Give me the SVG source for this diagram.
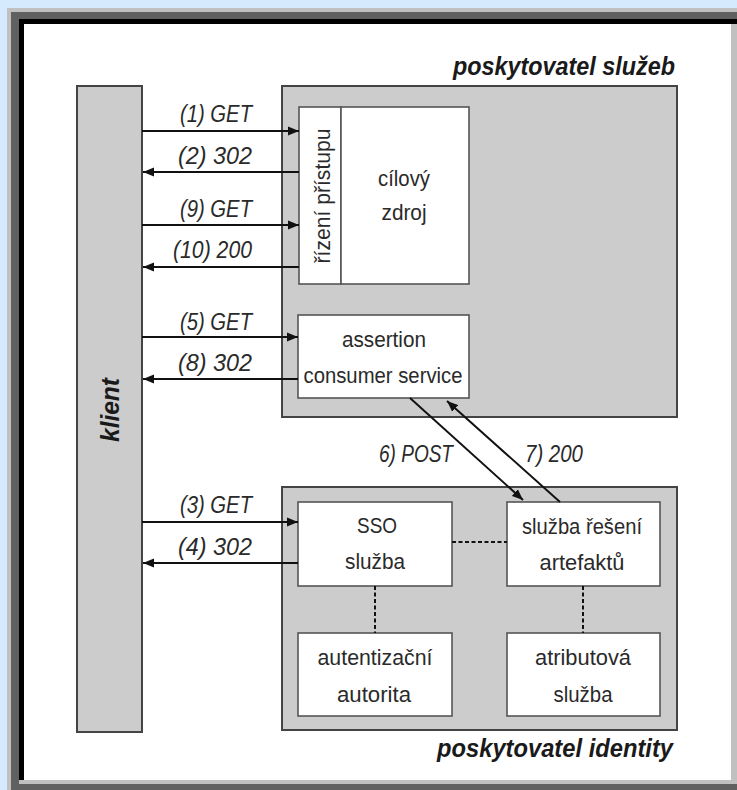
<svg xmlns="http://www.w3.org/2000/svg" width="737" height="790" viewBox="0 0 737 790">
<style>
.bg{fill:#d5eafc}
.cont{fill:#cccccc;stroke:#444;stroke-width:2}
.node{fill:#ffffff;stroke:#555;stroke-width:1.6}
.t{font-family:"Liberation Sans",Arial,sans-serif;font-size:22.5px;fill:#2a2a2a;text-anchor:middle}
.lbl{font-family:"Liberation Sans",Arial,sans-serif;font-size:23px;font-style:italic;fill:#2a2a2a}
.title{font-family:"Liberation Sans",Arial,sans-serif;font-size:25px;font-style:italic;font-weight:bold;fill:#1a1a1a}
.arr{stroke:#111;stroke-width:2;fill:none;marker-end:url(#ah)}
.dash{stroke:#111;stroke-width:2;fill:none;stroke-dasharray:4 2.5}
</style>
<defs>
<marker id="ah" markerUnits="userSpaceOnUse" markerWidth="12" markerHeight="10" refX="11" refY="5" orient="auto">
<path d="M0,0.5 L11,5 L0,9.5 z" fill="#111"/>
</marker>
</defs>
<g id="frame">
<rect class="bg" x="0" y="0" width="737" height="790"/>
<rect x="7" y="8" width="730" height="782" fill="#c0c0c0"/>
<rect x="11" y="12" width="726" height="778" fill="#606060"/>
<rect x="19" y="19" width="718" height="765" fill="#c0c0c0"/>
<rect x="19" y="19" width="718" height="5" fill="#000"/>
<rect x="19" y="19" width="5" height="761" fill="#000"/>
<rect x="24" y="24" width="707" height="756" fill="#ffffff"/>
</g>
<g id="klient">
<rect class="cont" x="77" y="86" width="65" height="646"/>
<text class="title" transform="translate(119,410) rotate(-90)" text-anchor="middle" x="0" y="0" textLength="64" lengthAdjust="spacingAndGlyphs">klient</text>
</g>
<g id="poskytovatel-sluzeb">
<rect class="cont" x="282" y="86" width="395" height="331"/>
<text class="title" x="453" y="75" textLength="222" lengthAdjust="spacingAndGlyphs">poskytovatel služeb</text>
</g>
<g id="rizeni-pristupu">
<rect class="node" x="299" y="107" width="42" height="177"/>
<text class="t" transform="translate(330,196) rotate(-90)" x="0" y="0" textLength="135" lengthAdjust="spacingAndGlyphs">řízení přístupu</text>
</g>
<g id="cilovy-zdroj">
<rect class="node" x="341" y="107" width="128" height="177"/>
<text class="t" x="404" y="186" textLength="52" lengthAdjust="spacingAndGlyphs">cílový</text>
<text class="t" x="404" y="220" textLength="45" lengthAdjust="spacingAndGlyphs">zdroj</text>
</g>
<g id="assertion-consumer-service">
<rect class="node" x="298" y="315" width="171" height="83"/>
<text class="t" x="384" y="347" textLength="84" lengthAdjust="spacingAndGlyphs">assertion</text>
<text class="t" x="383" y="383" textLength="159" lengthAdjust="spacingAndGlyphs">consumer service</text>
</g>
<g id="poskytovatel-identity">
<rect class="cont" x="282" y="487" width="395" height="243"/>
<text class="title" x="437" y="757" textLength="236" lengthAdjust="spacingAndGlyphs">poskytovatel identity</text>
</g>
<g id="sso-sluzba">
<rect class="node" x="298" y="502" width="154" height="84"/>
<text class="t" x="377" y="533" textLength="40" lengthAdjust="spacingAndGlyphs">SSO</text>
<text class="t" x="375" y="569" textLength="60" lengthAdjust="spacingAndGlyphs">služba</text>
</g>
<g id="sluzba-reseni-artefaktu">
<rect class="node" x="507" y="502" width="153" height="84"/>
<text class="t" x="582" y="534" textLength="120" lengthAdjust="spacingAndGlyphs">služba řešení</text>
<text class="t" x="582" y="570" textLength="85" lengthAdjust="spacingAndGlyphs">artefaktů</text>
</g>
<g id="autentizacni-autorita">
<rect class="node" x="298" y="633" width="154" height="83"/>
<text class="t" x="375" y="665" textLength="115" lengthAdjust="spacingAndGlyphs">autentizační</text>
<text class="t" x="374" y="702" textLength="74" lengthAdjust="spacingAndGlyphs">autorita</text>
</g>
<g id="atributova-sluzba">
<rect class="node" x="507" y="633" width="153" height="83"/>
<text class="t" x="583" y="665" textLength="96" lengthAdjust="spacingAndGlyphs">atributová</text>
<text class="t" x="583" y="702" textLength="59" lengthAdjust="spacingAndGlyphs">služba</text>
</g>
<g id="connectors">
<line class="arr" x1="142" y1="131" x2="299" y2="131"/>
<line class="arr" x1="299" y1="172" x2="143" y2="172"/>
<line class="arr" x1="142" y1="225" x2="299" y2="225"/>
<line class="arr" x1="299" y1="267" x2="143" y2="267"/>
<line class="arr" x1="142" y1="337" x2="298" y2="337"/>
<line class="arr" x1="298" y1="379" x2="143" y2="379"/>
<line class="arr" x1="142" y1="522" x2="298" y2="522"/>
<line class="arr" x1="298" y1="563" x2="143" y2="563"/>
<line class="arr" x1="410" y1="398" x2="523" y2="500"/>
<line class="arr" x1="560" y1="502" x2="447" y2="401"/>
<line class="dash" x1="452" y1="542" x2="507" y2="542"/>
<line class="dash" x1="375" y1="586" x2="375" y2="633"/>
<line class="dash" x1="583" y1="586" x2="583" y2="633"/>
<text class="lbl" x="180" y="122" textLength="72" lengthAdjust="spacingAndGlyphs">(1) GET</text>
<text class="lbl" x="178" y="164" textLength="74" lengthAdjust="spacingAndGlyphs">(2) 302</text>
<text class="lbl" x="180" y="217" textLength="72" lengthAdjust="spacingAndGlyphs">(9) GET</text>
<text class="lbl" x="173" y="258" textLength="79" lengthAdjust="spacingAndGlyphs">(10) 200</text>
<text class="lbl" x="180" y="330" textLength="72" lengthAdjust="spacingAndGlyphs">(5) GET</text>
<text class="lbl" x="178" y="371" textLength="74" lengthAdjust="spacingAndGlyphs">(8) 302</text>
<text class="lbl" x="180" y="513" textLength="72" lengthAdjust="spacingAndGlyphs">(3) GET</text>
<text class="lbl" x="178" y="555" textLength="74" lengthAdjust="spacingAndGlyphs">(4) 302</text>
<text class="lbl" x="379" y="462" textLength="74" lengthAdjust="spacingAndGlyphs">6) POST</text>
<text class="lbl" x="525" y="462" textLength="58" lengthAdjust="spacingAndGlyphs">7) 200</text>
</g>
</svg>
